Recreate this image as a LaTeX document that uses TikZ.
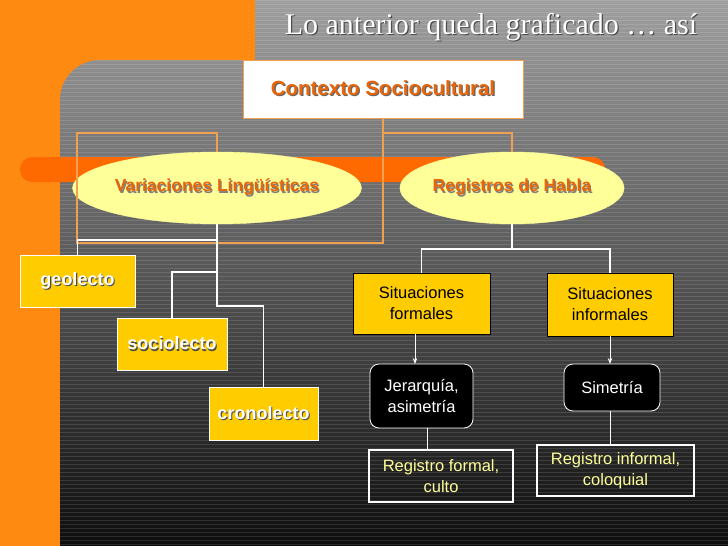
\documentclass[tikz,border=0pt]{standalone}
\usepackage{fontspec}
\setmainfont{Liberation Sans}
\newfontfamily\serifT{Liberation Serif}
\usetikzlibrary{shapes.geometric,arrows.meta}
\definecolor{bgor}{HTML}{FF8A12}
\definecolor{baror}{HTML}{FF6A00}
\definecolor{txor}{HTML}{E8650A}
\definecolor{ylw}{HTML}{FFCC00}
\definecolor{lylw}{HTML}{FFFF99}
\definecolor{lor}{HTML}{F0A050}
\newcommand\shtext[3]{{\color{#1}\rlap{\hspace{1.2pt}\raisebox{-1.2pt}{#3}}}{\color{#2}#3}}
\tikzset{
 ylbox/.style={rectangle,fill=ylw,draw=white,line width=0.8pt,minimum height=52pt,inner sep=1pt,font=\bfseries\fontsize{18}{20}\selectfont},
 sitbox/.style={rectangle,fill=ylw,draw=black,line width=0.8pt,align=center,font=\fontsize{16.5}{21}\selectfont,text=black},
 blkbox/.style={rectangle,rounded corners=9pt,fill=black,draw=white,line width=0.8pt,align=center,font=\fontsize{16.5}{21}\selectfont,text=white},
 regbox/.style={rectangle,draw=white,line width=1.2pt,align=center,font=\fontsize{16.5}{21}\selectfont,text=lylw},
 ell/.style={ellipse,fill=lylw,draw=lylw,minimum height=72pt,inner sep=0pt,font=\bfseries\fontsize{17.5}{20}\selectfont},
 wline/.style={draw=white,line width=1.5pt},
 oline/.style={draw=lor,line width=1.5pt},
}
\begin{document}
\begin{tikzpicture}[x=1pt,y=-1pt]
\useasboundingbox (0,0) rectangle (728,546);
\fill[bgor] (0,0) rectangle (728,546);
\def\bgpath{(255,0) -- (728,0) -- (728,546) -- (60,546) [rounded corners=40pt] -- (60,60) [sharp corners] -- (255,60) -- cycle}
\shade[top color=gray!75, bottom color=black!95] \bgpath;
\begin{scope}
\clip \bgpath;
\foreach \yy in {0,4,...,546} \draw[white,opacity=0.12,line width=0.8pt] (0,\yy) -- (728,\yy);
\end{scope}
\fill[baror,rounded corners=12pt] (20,157) rectangle (605,182);
% title
\node (title) at (491,28) {\serifT\fontsize{30}{32}\selectfont\shtext{black!70}{white}{Lo anterior queda graficado \dots\ así}};
% contexto
\node[rectangle,fill=white,draw=lor,line width=1pt,minimum width=280pt,minimum height=58pt,font=\bfseries\fontsize{20.5}{22}\selectfont] (ctx) at (383,89) {\shtext{black!60}{txor}{Contexto Sociocultural}};
\node[ell,minimum width=244pt] (var) at (217,188) {\shtext{black!50}{txor}{Variaciones Lingüísticas}};
\node[ell,minimum width=200pt] (reg) at (512,188) {\shtext{black!50}{txor}{Registros de Habla}};
\draw[oline] (ctx.south) -- (383,243) -- (77,243) -- (77,133) -- (217,133) -- (var.north);
\draw[oline] (383,133) -| (reg.north);
% lectos
\node[ylbox,minimum width=115pt] (geo) at (77.5,281) {\shtext{black!70}{white}{geolecto}};
\node[ylbox,minimum width=110pt] (soc) at (172,344) {\shtext{black!70}{white}{sociolecto}};
\node[ylbox,minimum width=109pt,minimum height=53pt] (cro) at (263.5,413.5) {\shtext{black!70}{white}{cronolecto}};
\draw[wline] (var.south) -- (217,240) -| (geo.north);
\draw[wline] (217,240) -- (217,272) -| (soc.north);
\draw[wline] (217,272) -- (217,306) -| (cro.north);
% registros
\node[sitbox,minimum width=137pt,minimum height=61pt] (sf) at (421.5,303.5) {Situaciones\\formales};
\node[sitbox,minimum width=126pt,minimum height=63pt] (si) at (610,304.5) {Situaciones\\informales};
\draw[wline] (reg.south) -- (512,249) -| (sf.north);
\draw[wline] (512,249) -| (si.north);
\node[blkbox,minimum width=103pt,minimum height=64pt] (jer) at (421.5,396) {Jerarquía,\\asimetría};
\node[blkbox,minimum width=96pt,minimum height=47pt] (sim) at (612,387.5) {Simetría};
\draw[white,line width=0.8pt,-{Stealth[length=6pt]}] (415,334) -- (415,364);
\draw[white,line width=0.8pt,-{Stealth[length=6pt]}] (610,336) -- (610,364);
\node[regbox,minimum width=144pt,minimum height=52pt] (rf) at (441,476) {Registro formal,\\culto};
\node[regbox,minimum width=157pt,minimum height=51pt] (ri) at (615.5,470.5) {Registro informal,\\coloquial};
\draw[wline,line width=1pt] (427,428) -- (427,450);
\draw[wline,line width=1pt] (610,411) -- (610,445);
\end{tikzpicture}
\end{document}
